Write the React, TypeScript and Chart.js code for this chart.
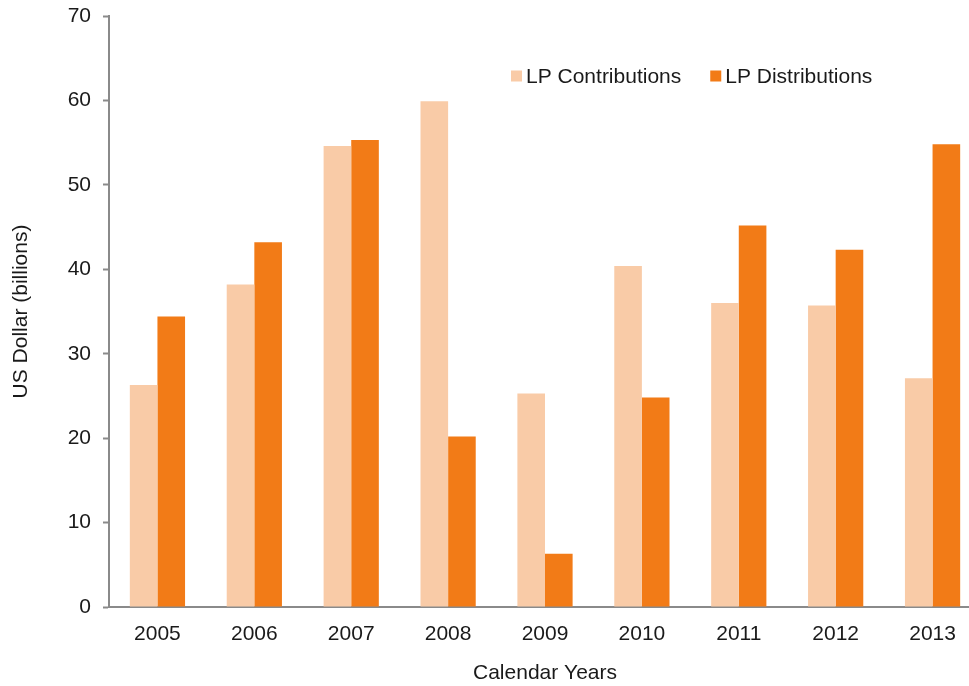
import React, { useEffect, useRef } from "react";
import { Chart, registerables } from "chart.js";

Chart.register(...registerables);

const years = ["2005", "2006", "2007", "2008", "2009", "2010", "2011", "2012", "2013"];
const contributions = [26.3, 38.2, 54.6, 59.9, 25.3, 40.4, 36.0, 35.7, 27.1];
const distributions = [34.4, 43.2, 55.3, 20.2, 6.3, 24.8, 45.2, 42.3, 54.8];
const seriesNames = ["LP Contributions", "LP Distributions"];
const seriesColors = ["#F9CBA7", "#F27B17"];
const yTitle = "US Dollar (billions)";
const xTitle = "Calendar Years";

const FONT = "'Liberation Sans', Arial, sans-serif";
const FS = 21;

const legendPlugin = {
  id: "inAreaLegend",
  afterDraw(chart: any) {
    const ctx = chart.ctx;
    const area = chart.chartArea;
    ctx.save();
    ctx.font = `${FS}px ${FONT}`;
    ctx.textBaseline = "middle";
    ctx.textAlign = "left";
    let x = area.left + 402;
    const y = area.top + 60;
    const box = 11;
    chart.data.datasets.forEach((ds: any) => {
      ctx.fillStyle = ds.backgroundColor;
      ctx.fillRect(x, y - box / 2, box, box);
      x += box + 4;
      ctx.fillStyle = "#1a1a1a";
      ctx.fillText(ds.label, x, y + 1);
      x += ctx.measureText(ds.label).width + 29;
    });
    ctx.restore();
  },
};

export default function App() {
  const ref = useRef<HTMLCanvasElement>(null);
  useEffect(() => {
    if (!ref.current) return;
    const chart = new Chart(ref.current, {
      type: "bar",
      data: {
        labels: years,
        datasets: [
          { label: seriesNames[0], data: contributions, backgroundColor: seriesColors[0] },
          { label: seriesNames[1], data: distributions, backgroundColor: seriesColors[1] },
        ],
      },
      options: {
        responsive: false,
        animation: false,
        devicePixelRatio: 1,
        layout: { padding: { left: 0, right: 0, top: 16, bottom: 0 } },
        datasets: { bar: { barPercentage: 1, categoryPercentage: 0.57 } },
        plugins: { legend: { display: false }, tooltip: { enabled: false } },
        scales: {
          x: {
            grid: { display: true, drawOnChartArea: false, drawTicks: false },
            border: { display: true, color: "#8a8a8a", width: 2 },
            ticks: { color: "#1a1a1a", font: { family: FONT, size: FS }, padding: 15 },
            title: { display: true, text: xTitle, color: "#1a1a1a", font: { family: FONT, size: FS }, padding: 0 },
            afterFit(scale: any) { scale.height = 79; scale.paddingLeft = 0; scale.paddingRight = 0; },
          },
          y: {
            min: 0,
            max: 70,
            ticks: { stepSize: 10, color: "#1a1a1a", font: { family: FONT, size: FS }, padding: 12 },
            grid: { display: true, drawOnChartArea: false, drawTicks: true, tickLength: 6, tickColor: "#8a8a8a", tickWidth: 2 },
            border: { display: true, color: "#8a8a8a", width: 2 },
            title: { display: true, text: yTitle, color: "#1a1a1a", font: { family: FONT, size: FS }, padding: { top: 9, bottom: 0 } },
            afterFit(scale: any) { scale.width = 109; scale.paddingTop = 0; scale.paddingBottom = 0; },
          },
        },
      },
      plugins: [legendPlugin],
    });
    return () => chart.destroy();
  }, []);
  return (
    <div style={{ position: "fixed", left: 0, top: 0, width: 969, height: 686, overflow: "hidden", background: "#fff" }}>
      <canvas ref={ref} width={981} height={686} style={{ display: "block" }} />
    </div>
  );
}
